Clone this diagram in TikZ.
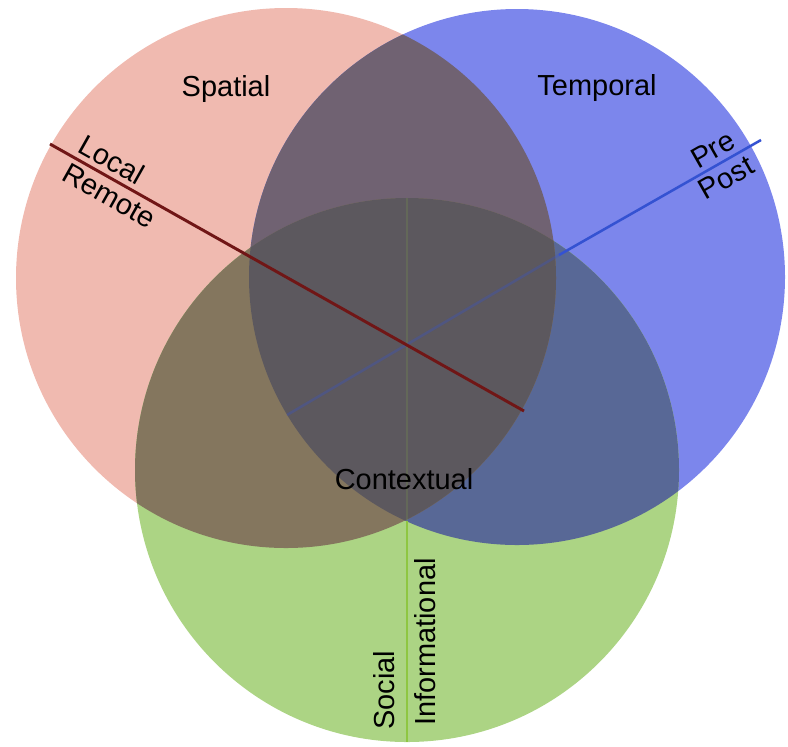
\documentclass[tikz,border=0pt]{standalone}
\usepackage{fontspec}
\setmainfont{Liberation Sans}

\definecolor{spatialfill}{RGB}{240,186,176}
\definecolor{temporalfill}{RGB}{124,134,236}
\definecolor{contextfill}{RGB}{172,212,132}
\definecolor{stfill}{RGB}{112,98,114}
\definecolor{scfill}{RGB}{132,118,94}
\definecolor{tcfill}{RGB}{88,104,150}
\definecolor{stcfill}{RGB}{92,88,94}
\definecolor{spatialline}{RGB}{112,22,22}
\definecolor{temporalline}{RGB}{52,82,210}
\definecolor{contextline}{RGB}{142,198,66}

\tikzset{
  spatialcirc/.style={spatialfill},
  redline/.style={draw=spatialline,line width=2.1pt},
  blueline/.style={draw=temporalline,line width=1.8pt},
  greenline/.style={draw=contextline,line width=2.1pt},
  lbl/.style={font=\fontsize{20.6}{24}\selectfont,inner sep=0.3em}
}

\begin{document}
\begin{tikzpicture}[x=0.025cm,y=-0.025cm]

      \useasboundingbox (0,0) rectangle (788,746);

      \coordinate (rc) at (286,278);
      \coordinate (bc) at (517,277);
      \coordinate (gc) at (407,470);

      \fill[spatialfill] (rc) circle[radius=270];
      \fill[temporalfill] (bc) circle[radius=268];
      \fill[contextfill] (gc) circle[radius=272];

      \begin{scope}
        \clip (bc) circle[radius=268];
        \fill[tcfill] (gc) circle[radius=272];
      \end{scope}

      \begin{scope}
        \clip (rc) circle[radius=270];
        \fill[stfill] (bc) circle[radius=268];
        \fill[scfill] (gc) circle[radius=272];
        \clip (bc) circle[radius=268];
        \fill[stcfill] (gc) circle[radius=272];
      \end{scope}

      \coordinate (gT) at (407,198);
      \coordinate (gM) at (407,521);
      \coordinate (gB) at (407,742);
      \coordinate (bS) at (287,415);
      \coordinate (bM) at (559,255);
      \coordinate (bE) at (761,140);
      \coordinate (rS) at (50,144);
      \coordinate (rE) at (524,411);

      \begin{scope}[every node/.style={lbl,sloped}]
        \path (gT) edge[greenline,opacity=0.15] (gM);
        \path (gM) edge[greenline] (gB);
        \path (bS) edge[blueline,opacity=0.3] (bM);
        \path (bM) edge[blueline] node[pos=0.80,above] {Pre} node[pos=0.79,below] {Post} (bE);
        \path (rS) edge[redline] node[pos=0.113,above] {Local} node[pos=0.142,below] {Remote} (rE);
      \end{scope}

      \begin{scope}[every node/.style={lbl}]
        \node (spatial) at (226,89) {Spatial};
        \node (temporal) at (597,88) {Temporal};
        \node (contextual) at (404,479) {Contextual};
        \node[rotate=90] (social) at (384,690) {Social};
        \node[rotate=90] (informational) at (425,642) {Informational};
      \end{scope}

    \end{tikzpicture}
\end{document}
